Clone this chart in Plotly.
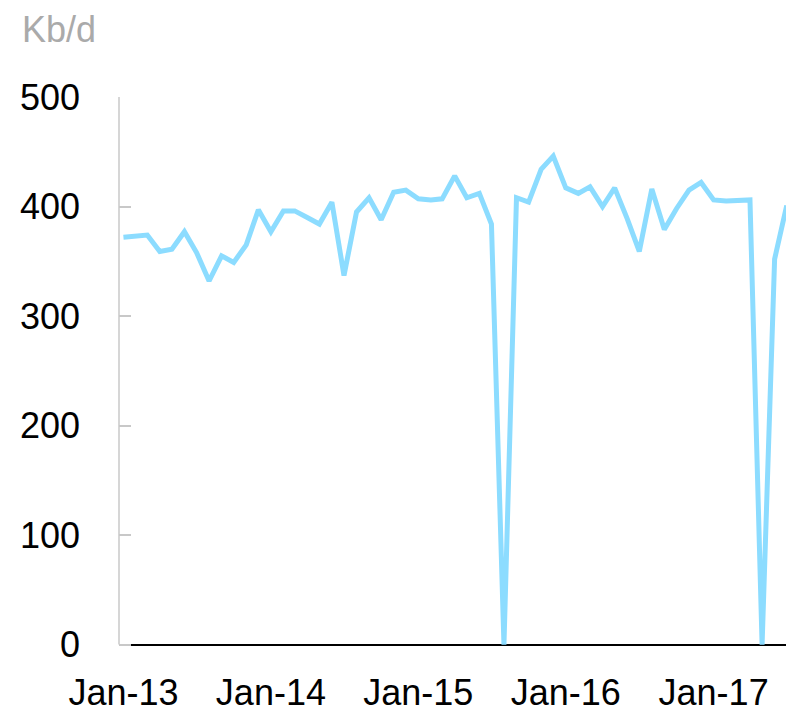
import pandas as pd
import plotly.graph_objects as go

# Monthly values, Jan-2013 .. Jul-2017 (Kb/d)
values = [
    372, 373, 374, 359, 361, 377, 358, 332, 355, 349, 365, 397,
    377, 396, 396, 390, 384, 404, 337, 395, 408, 388, 413, 415,
    407, 406, 407, 428, 408, 412, 384, 0, 408, 404, 434, 446,
    417, 412, 418, 400, 417, 389, 359, 416, 379, 398, 415, 422,
    406, 405, 405, 406, 0, 352, 401,
]
dates = pd.date_range("2013-01-01", periods=len(values), freq="MS")

tick_vals = ["2013-01-01", "2014-01-01", "2015-01-01", "2016-01-01", "2017-01-01"]
tick_text = ["Jan-13", "Jan-14", "Jan-15", "Jan-16", "Jan-17"]
y_ticks = [0, 100, 200, 300, 400, 500]
unit_label = "Kb/d"

FONT = "Liberation Sans, Arial, sans-serif"

fig = go.Figure()
fig.add_trace(go.Scatter(
    x=dates, y=values, mode="lines",
    line=dict(color="#8cdcff", width=5, shape="linear"),
    hoverinfo="x+y", showlegend=False,
))

fig.update_layout(
    width=786, height=705,
    margin=dict(l=111, r=0, t=89, b=64),
    paper_bgcolor="white", plot_bgcolor="white",
    font=dict(family=FONT, size=36, color="black"),
    xaxis=dict(
        range=["2012-12-21", "2017-07-19"],
        tickvals=tick_vals, ticktext=tick_text,
        showgrid=False, zeroline=False, showline=False,
        ticks="", ticklabelstandoff=19, automargin=False,
        tickfont=dict(family=FONT, size=36, color="black"),
    ),
    yaxis=dict(
        range=[-4, 500],
        tickvals=y_ticks,
        showgrid=False,
        zeroline=True, zerolinecolor="black", zerolinewidth=2,
        showline=False, automargin=False,
        ticks="inside", ticklen=12, tickwidth=1.5, tickcolor="#c8c8c8",
        ticklabelstandoff=38,
        tickfont=dict(family=FONT, size=36, color="black"),
    ),
    shapes=[dict(
        type="line", xref="paper", yref="y",
        x0=0, x1=0, y0=0, y1=500,
        line=dict(color="#c8c8c8", width=1.5),
        layer="below",
    )],
    annotations=[dict(
        text=unit_label, xref="paper", yref="paper",
        x=(21-119)/675, y=1 + 89/552.4,
        xanchor="left", yanchor="top", showarrow=False, borderpad=0,
        font=dict(family=FONT, size=36, color="#aaaaaa"),
    )],
)

fig.write_html("out.html")
